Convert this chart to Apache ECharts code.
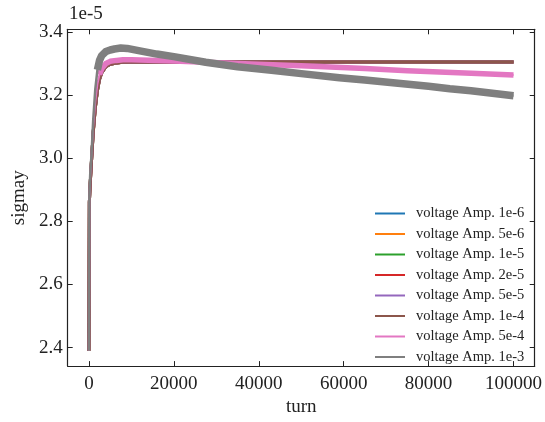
<!DOCTYPE html>
<html>
<head>
<meta charset="utf-8">
<script src="https://cdn.jsdelivr.net/npm/echarts@6/dist/echarts.min.js"></script>
<style>html,body{margin:0;padding:0;background:#fff}#c{width:545px;height:422px}</style>
</head>
<body>
<div id="c"></div>
<script>
// ---- data (sigmay in units of 1e-5) ----
const seriesNames = [
  'voltage Amp. 1e-6', 'voltage Amp. 5e-6', 'voltage Amp. 1e-5', 'voltage Amp. 2e-5',
  'voltage Amp. 5e-5', 'voltage Amp. 1e-4', 'voltage Amp. 5e-4', 'voltage Amp. 1e-3'
];
const colors = ['#1f77b4', '#ff7f0e', '#2ca02c', '#d62728', '#9467bd', '#8c564b', '#e377c2', '#7f7f7f'];

// six low-amplitude runs overlap on one plateau
const turnsPlateau  = [0, 100, 300, 600, 1000, 1500, 2000, 2500, 3000, 4000, 5000, 6500, 8000, 10000, 20000, 40000, 60000, 80000, 100000];
const plateauValues = [2.39, 2.86, 2.92, 2.99, 3.08, 3.16, 3.215, 3.25, 3.27, 3.29, 3.298, 3.302, 3.304, 3.305, 3.305, 3.305, 3.305, 3.305, 3.305];

const turnsPink  = [0, 100, 300, 600, 1000, 1500, 2000, 2500, 3000, 4000, 5000, 6500, 8000, 10000, 20000, 35000, 50000, 65000, 75000, 90000, 100000];
const pinkValues = [2.39, 2.87, 2.94, 3.01, 3.10, 3.18, 3.235, 3.265, 3.283, 3.300, 3.307, 3.310, 3.312, 3.312, 3.308, 3.300, 3.293, 3.284, 3.277, 3.269, 3.264];

const turnsGray  = [0, 100, 300, 600, 1000, 1500, 2000, 2500, 3000, 4000, 5000, 6000, 7500, 9000, 12000, 16000, 20000, 27500, 35000, 43000, 50000, 59000, 65000, 71000, 80000, 85000, 90000, 100000];
const grayValues = [2.39, 2.88, 2.95, 3.01, 3.12, 3.22, 3.28, 3.31, 3.325, 3.338, 3.343, 3.346, 3.349, 3.348, 3.340, 3.330, 3.322, 3.304, 3.290, 3.279, 3.268, 3.255, 3.248, 3.240, 3.228, 3.220, 3.214, 3.198];

const xTicks = [0, 20000, 40000, 60000, 80000, 100000];
const yTicks = [2.4, 2.6, 2.8, 3.0, 3.2, 3.4];

// ---- build ----
const pairs = (t, v) => t.map((x, i) => [x, v[i]]);
const FONT = '"Liberation Serif", "DejaVu Serif", serif';
const AX = '#222';

const series = [];
for (let i = 0; i < 6; i++) {
  series.push({ name: seriesNames[i], type: 'line', data: pairs(turnsPlateau, plateauValues),
    showSymbol: false, lineStyle: { width: 3, color: colors[i] }, itemStyle: { color: colors[i] } });
}
const pinkData = pairs(turnsPink, pinkValues);
const grayData = pairs(turnsGray, grayValues);
series.push({ name: seriesNames[6], type: 'line', data: pinkData, showSymbol: false,
  lineStyle: { width: 2, color: colors[6] }, itemStyle: { color: colors[6] } });
series.push({ name: 'band5e-4', type: 'line', data: pinkData.filter(p => p[0] >= 2500), showSymbol: false,
  lineStyle: { width: 5.5, color: colors[6], cap: 'butt', join: 'round' }, itemStyle: { color: colors[6] }, silent: true });
series.push({ name: seriesNames[7], type: 'line', data: grayData, showSymbol: false,
  lineStyle: { width: 2.5, color: colors[7] }, itemStyle: { color: colors[7] } });
series.push({ name: 'band1e-3', type: 'line', data: grayData.filter(p => p[0] >= 2000), showSymbol: false,
  lineStyle: { width: 7.5, color: colors[7], cap: 'butt', join: 'round' }, itemStyle: { color: colors[7] }, silent: true });

const tickCommon = { show: true, inside: true, length: 5, lineStyle: { color: AX, width: 1 } };
const lineCommon = { show: true, onZero: false, lineStyle: { color: AX, width: 1.2 } };

const option = {
  animation: false,
  color: colors,
  textStyle: { fontFamily: FONT },
  grid: { left: 67.7, right: 8.3, top: 29.3, bottom: 45, containLabel: false },
  xAxis: [
    { type: 'value', min: -5000, max: 105000, position: 'bottom',
      name: 'turn', nameLocation: 'middle', nameGap: 26,
      nameTextStyle: { fontFamily: FONT, fontSize: 19, color: AX },
      axisLine: lineCommon, splitLine: { show: false },
      axisTick: Object.assign({ customValues: xTicks }, tickCommon),
      axisLabel: { customValues: xTicks, fontFamily: FONT, fontSize: 19, color: AX, margin: 8,
        formatter: v => String(Math.round(v)) } },
    { type: 'value', min: -5000, max: 105000, position: 'top',
      axisLine: lineCommon, splitLine: { show: false },
      axisTick: Object.assign({ customValues: xTicks }, tickCommon),
      axisLabel: { show: false, customValues: xTicks } }
  ],
  yAxis: [
    { type: 'value', min: 2.3415, max: 3.4085, position: 'left',
      name: 'sigmay', nameLocation: 'middle', nameGap: 35,
      nameTextStyle: { fontFamily: FONT, fontSize: 19, color: AX },
      axisLine: lineCommon, splitLine: { show: false },
      axisTick: Object.assign({ customValues: yTicks }, tickCommon),
      axisLabel: { customValues: yTicks, fontFamily: FONT, fontSize: 19, color: AX, margin: 5,
        formatter: v => Number(v).toFixed(1) } },
    { type: 'value', min: 2.3415, max: 3.4085, position: 'right',
      axisLine: lineCommon, splitLine: { show: false },
      axisTick: Object.assign({ customValues: yTicks }, tickCommon),
      axisLabel: { show: false, customValues: yTicks } }
  ],
  legend: {
    data: seriesNames,
    orient: 'vertical', left: 375, top: 205.5, padding: 0,
    itemWidth: 30, itemHeight: 2, itemGap: 4.5, icon: 'rect',
    itemStyle: { borderWidth: 0 },
    textStyle: { fontFamily: FONT, fontSize: 14.5, color: AX, lineHeight: 16, padding: [0, 0, 0, 6] },
    selectedMode: false
  },
  graphic: [
    { type: 'text', left: 69, top: 5, style: { text: '1e-5', fontFamily: FONT, fontSize: 19, fill: AX } }
  ],
  series: series
};

const chart = echarts.init(document.getElementById('c'), null, { renderer: 'canvas' });
chart.setOption(option);
</script>
</body>
</html>
